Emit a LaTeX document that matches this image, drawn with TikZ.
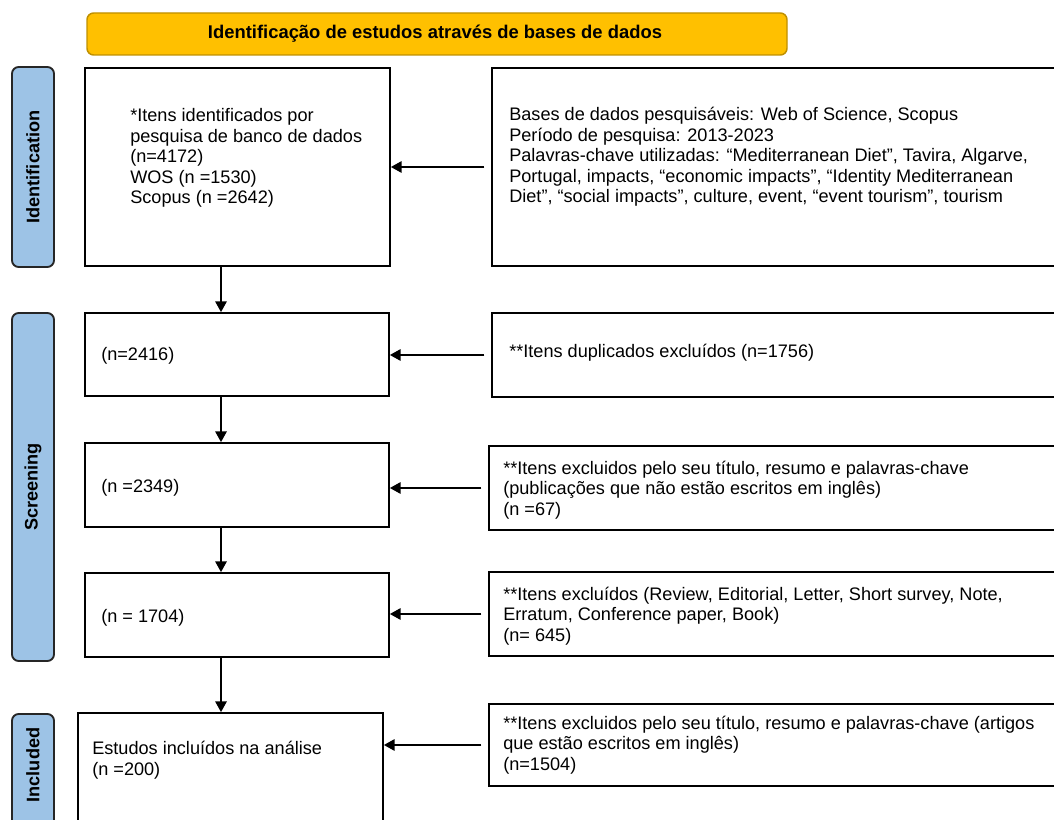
\documentclass[tikz,border=0pt]{standalone}
\usepackage{fontspec}
\setmainfont{Liberation Sans}
\usetikzlibrary{arrows.meta,calc,fit}

\definecolor{bannerfill}{HTML}{FFC000}
\definecolor{bannerdraw}{HTML}{BF9000}
\definecolor{sidefill}{HTML}{9DC3E6}

\begin{document}
\begin{tikzpicture}[
  x=0.75pt, y=-0.75pt,
  box/.style={draw=black, line width=1.3pt, inner sep=0pt},
  txt/.style={font=\fontsize{13.6}{15.4}\selectfont, align=left, anchor=west, inner sep=0pt},
  banner/.style={draw=bannerdraw, line width=1.1pt, fill=bannerfill, rounded corners=5pt, inner sep=0pt},
  side/.style={draw=black!85, line width=1.4pt, fill=sidefill, rounded corners=5pt, inner sep=0pt},
  sidetxt/.style={font=\fontsize{13.6}{15}\selectfont\bfseries, rotate=90, inner sep=0pt},
  arrow/.style={-{Triangle[length=8pt,width=8.5pt]}, line width=1.3pt},
]
\useasboundingbox (0,0) rectangle (1054,820);
\clip (0,0) rectangle (1054,820);

% Banner
\node[banner, fit={(87,13) (787,55)}] (top) {};
\node[font=\fontsize{13.8}{15}\selectfont\bfseries, inner sep=0pt] (toptxt) at (435,34)
  {Identificação de estudos através de bases de dados};

% Phase labels
\node[side, fit={(12,67) (54,267)}] (ident) {};
\node[sidetxt] (identtxt) at (ident.center) {Identification};
\node[side, fit={(12,313) (54,661)}] (screen) {};
\node[sidetxt] (screentxt) at (screen.center) {Screening};
\node[side, fit={(12,714) (54,860)}] (incl) {};
\node[sidetxt] (incltxt) at (33,765) {Included};

% Left column
\node[box, fit={(85,68) (390,266)}] (box1) {};
\node[txt] (t1) at (130,158) {*Itens identificados por\\pesquisa de banco de dados\\(n=4172)\\WOS (n =1530)\\Scopus (n =2642)};
\node[box, fit={(85,313) (389,396)}] (box2) {};
\node[txt] (t2) at (101,356) {(n=2416)};
\node[box, fit={(85,443) (389,527)}] (box3) {};
\node[txt] (t3) at (101,488) {(n =2349)};
\node[box, fit={(85,573) (389,657)}] (box4) {};
\node[txt] (t4) at (101,618) {(n = 1704)};
\node[box, fit={(78,713) (383,860)}] (box5) {};
\node[txt] (t5) at (92,760) {Estudos incluídos na análise\\(n =200)};

% Right column
\node[box, fit={(492,68) (1062,266)}] (rbox1) {};
\node[txt] (r1) at (509,157) {Bases de dados pesquisáveis: Web of Science, Scopus\\Período de pesquisa: 2013-2023\\Palavras-chave utilizadas: “Mediterranean Diet”, Tavira, Algarve,\\Portugal, impacts, “economic impacts”, “Identity Mediterranean\\Diet”, “social impacts”, culture, event, “event tourism”, tourism};
\node[box, fit={(492,313) (1062,397)}] (rbox2) {};
\node[txt] (r2) at (509,353) {**Itens duplicados excluídos (n=1756)};
\node[box, fit={(489,446) (1062,530)}] (rbox3) {};
\node[txt] (r3) at (503,490) {**Itens excluidos pelo seu título, resumo e palavras-chave\\(publicações que não estão escritos em inglês)\\(n =67)};
\node[box, fit={(489,572) (1062,656)}] (rbox4) {};
\node[txt] (r4) at (503,616) {**Itens excluídos (Review, Editorial, Letter, Short survey, Note,\\Erratum, Conference paper, Book)\\(n= 645)};
\node[box, fit={(489,704) (1062,786)}] (rbox5) {};
\node[txt] (r5) at (503,745) {**Itens excluidos pelo seu título, resumo e palavras-chave (artigos\\que estão escritos em inglês)\\(n=1504)};

% Flow down
\coordinate (spine) at (221,0);
\draw[arrow] (box1.south -| spine) -- (box2.north -| spine);
\draw[arrow] (box2.south -| spine) -- (box3.north -| spine);
\draw[arrow] (box3.south -| spine) -- (box4.north -| spine);
\draw[arrow] (box4.south -| spine) -- (box5.north -| spine);

% Side arrows
\foreach \i in {1,...,5} {
  \draw[arrow, shorten <=5pt] (rbox\i.west) -- (rbox\i.west -| box\i.east);
}

\end{tikzpicture}
\end{document}
